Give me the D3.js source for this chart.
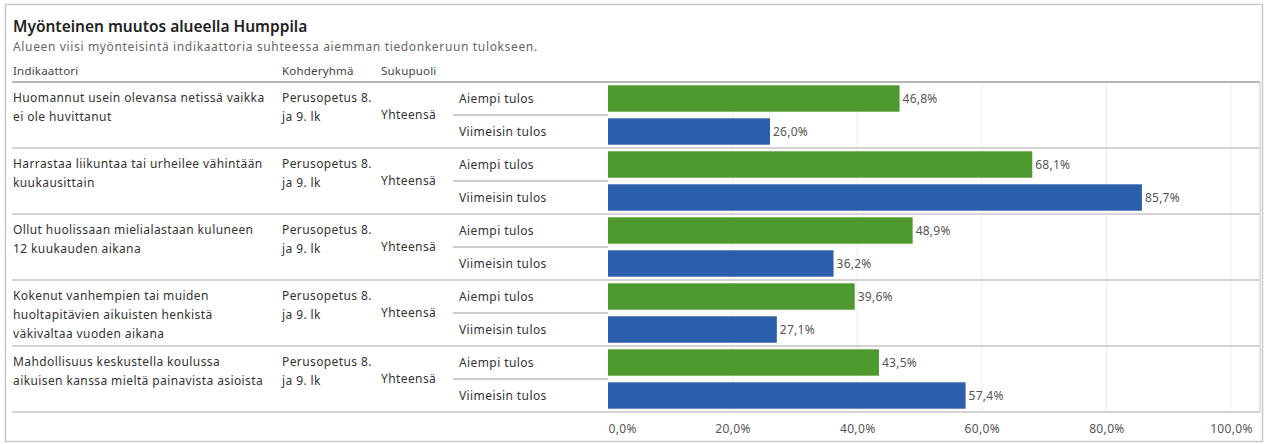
<!DOCTYPE html>
<html>
<head>
<meta charset="utf-8">
<script src="https://cdn.jsdelivr.net/npm/d3@7"></script>
<style>
  html, body { margin: 0; padding: 0; background: #fff; }
  svg { display: block; font-family: "Noto Sans", "Open Sans", sans-serif; }
</style>
</head>
<body>
<svg id="chart" width="1265" height="444"></svg>
<script>
// ---- data ----
const title = "Myönteinen muutos alueella Humppila";
const subtitle = "Alueen viisi myönteisintä indikaattoria suhteessa aiemman tiedonkeruun tulokseen.";
const headers = ["Indikaattori", "Kohderyhmä", "Sukupuoli"];
const indicators = [
  ["Huomannut usein olevansa netissä vaikka", "ei ole huvittanut"],
  ["Harrastaa liikuntaa tai urheilee vähintään", "kuukausittain"],
  ["Ollut huolissaan mielialastaan kuluneen", "12 kuukauden aikana"],
  ["Kokenut vanhempien tai muiden", "huoltapitävien aikuisten henkistä", "väkivaltaa vuoden aikana"],
  ["Mahdollisuus keskustella koulussa", "aikuisen kanssa mieltä painavista asioista"]
];
const targetGroup = ["Perusopetus 8.", "ja 9. lk"];
const gender = "Yhteensä";
const measures = ["Aiempi tulos", "Viimeisin tulos"];
const aiempi = [0.468, 0.681, 0.489, 0.396, 0.435];
const viimeisin = [0.260, 0.857, 0.362, 0.271, 0.574];
const ticks = [0, 0.2, 0.4, 0.6, 0.8, 1.0];
const colors = ["#4f9a2e", "#2c5fab"];

// ---- layout ----
const svg = d3.select("#chart");
const fiLocale = d3.formatLocale({decimal: ",", thousands: "\u00a0", grouping: [3], currency: ["", "€"]});
const pct = fiLocale.format(".1%");

const yTop = 82, yBottom = 412;
const xScale = d3.scaleLinear().domain([0, 1]).range([608, 1231]);
const groupScale = d3.scaleBand().domain(d3.range(indicators.length)).range([yTop, yBottom]);
const measureScale = d3.scaleBand().domain(measures).range([0, groupScale.bandwidth()]).paddingInner(0.2).paddingOuter(0.1);

const textCol = "#333";
const fs = 12, ls = 0.4;

// outer border
svg.append("rect").attr("x", 5.5).attr("y", 4.5).attr("width", 1257).attr("height", 437)
  .attr("fill", "none").attr("stroke", "#c9c9c9").attr("stroke-width", 1.5);

// title & subtitle
svg.append("text").attr("x", 13).attr("y", 32).text(title)
  .attr("font-size", 15.5).attr("font-weight", 600).attr("fill", "#222");
svg.append("text").attr("x", 13).attr("y", 51).text(subtitle)
  .attr("font-size", 12).attr("letter-spacing", 0.65).attr("fill", "#666");

// headers
const headerX = [13, 282, 381];
headers.forEach((h, i) => {
  svg.append("text").attr("x", headerX[i]).attr("y", 75).text(h)
    .attr("font-size", 11.5).attr("letter-spacing", 0.2).attr("fill", "#444");
});

// gridlines
svg.append("g").selectAll("line").data(ticks.slice(1)).join("line")
  .attr("x1", d => xScale(d)).attr("x2", d => xScale(d))
  .attr("y1", yTop).attr("y2", yBottom)
  .attr("stroke", "#eeeeee").attr("stroke-width", 1);

// groups
const groups = svg.append("g").selectAll("g").data(indicators).join("g")
  .attr("transform", (d, i) => `translate(0,${groupScale(i)})`);

groups.each(function(lines, i) {
  const g = d3.select(this);
  const t = g.append("text").attr("font-size", fs).attr("letter-spacing", ls).attr("fill", textCol);
  lines.forEach((ln, j) => {
    t.append("tspan").attr("x", 13).attr("y", 20 + j * 19).text(ln);
  });
  const t2 = g.append("text").attr("font-size", fs).attr("letter-spacing", ls).attr("fill", textCol);
  targetGroup.forEach((ln, j) => {
    t2.append("tspan").attr("x", 282).attr("y", 20 + j * 19).text(ln);
  });
  g.append("text").attr("x", 381).attr("y", groupScale.bandwidth() / 2 + 4).text(gender)
    .attr("font-size", fs).attr("letter-spacing", ls).attr("fill", textCol);
  measures.forEach((m, k) => {
    const y0 = k * groupScale.bandwidth() / 2;
    g.append("text").attr("x", 459).attr("y", y0 + groupScale.bandwidth() / 4 + 4).text(m)
      .attr("font-size", fs).attr("letter-spacing", ls).attr("fill", textCol);
  });
  g.append("line").attr("x1", 453).attr("x2", 608)
    .attr("y1", groupScale.bandwidth() / 2).attr("y2", groupScale.bandwidth() / 2)
    .attr("stroke", "#9a9a9a").attr("stroke-width", 1);
  const vals = [aiempi[i], viimeisin[i]];
  measures.forEach((m, k) => {
    g.append("rect").attr("x", xScale(0)).attr("y", measureScale(m))
      .attr("width", xScale(vals[k]) - xScale(0)).attr("height", measureScale.bandwidth())
      .attr("fill", colors[k]);
    g.append("text").attr("x", xScale(vals[k]) + 3).attr("y", measureScale(m) + measureScale.bandwidth() / 2 + 4)
      .text(pct(vals[k])).attr("font-size", fs).attr("letter-spacing", 0.25).attr("fill", "#555");
  });
});

// group separators
svg.append("g").selectAll("line").data(d3.range(indicators.length + 1)).join("line")
  .attr("x1", 12).attr("x2", 1260)
  .attr("y1", d => d < indicators.length ? groupScale(d) : yBottom)
  .attr("y2", d => d < indicators.length ? groupScale(d) : yBottom)
  .attr("stroke", d => d === 0 ? "#b5b5b5" : "#c4c4c4").attr("stroke-width", d => d === 0 ? 2 : 1.5);

// pane right border
svg.append("line").attr("x1", 1260).attr("x2", 1260).attr("y1", yTop).attr("y2", yBottom)
  .attr("stroke", "#c4c4c4").attr("stroke-width", 1);

// axis
const axis = d3.axisBottom(xScale).tickValues(ticks).tickFormat(pct).tickSize(0).tickPadding(0);
const ax = svg.append("g").attr("transform", `translate(0,${yBottom + 21})`).call(axis);
ax.select(".domain").remove();
ax.selectAll("text").attr("font-size", fs).attr("letter-spacing", 0.35).attr("fill", "#555")
  .attr("font-family", "Noto Sans, sans-serif")
  .attr("dy", 0)
  .attr("text-anchor", d => d === 0 ? "start" : "middle");
</script>
</body>
</html>
